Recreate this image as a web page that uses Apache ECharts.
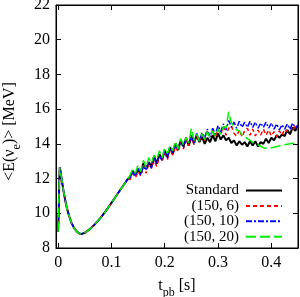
<!DOCTYPE html>
<html><head><meta charset="utf-8">
<script src="https://cdn.jsdelivr.net/npm/echarts@6/dist/echarts.min.js"></script>
<style>html,body{margin:0;padding:0;background:#fff}#c{width:300px;height:297px}</style>
</head><body><div id="c"></div>
<script>
// time (s) — early phase shared by all runs
const tEarly = [0, 0.001, 0.002, 0.003, 0.004, 0.006, 0.008, 0.010, 0.013, 0.016, 0.020, 0.025, 0.030, 0.035, 0.040, 0.045, 0.050, 0.060, 0.070, 0.080, 0.090, 0.100, 0.110, 0.120, 0.130];
const eEarly = [8.95, 10.0, 11.6, 12.65, 12.5, 12.1, 11.7, 11.3, 10.8, 10.35, 9.9, 9.45, 9.15, 8.95, 8.83, 8.82, 8.87, 9.1, 9.4, 9.75, 10.15, 10.6, 11.05, 11.5, 11.95];
const tLate = [0.135,0.14,0.145,0.15,0.155,0.16,0.165,0.17,0.175,0.18,0.185,0.19,0.195,0.2,0.205,0.21,0.215,0.22,0.225,0.23,0.235,0.24,0.245,0.25,0.255,0.26,0.265,0.27,0.275,0.28,0.285,0.29,0.295,0.3,0.305,0.31,0.315,0.32,0.325,0.33,0.335,0.34,0.345,0.35,0.355,0.36,0.365,0.37,0.375,0.38,0.385,0.39,0.395,0.4,0.405,0.41,0.415,0.42,0.425,0.43,0.435,0.44,0.445,0.45];
const eStandard = [12.1,12.45,12.2,12.5,12.3,12.9,12.55,12.95,12.7,13.3,12.85,13.4,13.1,13.6,13.25,13.8,13.4,14.0,13.65,14.2,13.85,14.35,13.9,14.4,14.05,14.5,14.1,14.4,14.0,14.35,14.1,14.5,14.15,14.6,14.25,14.5,14.2,14.35,14.05,14.2,13.9,14.15,13.95,14.1,13.85,14.15,13.9,14.15,13.85,14.1,14.0,14.3,14.05,14.35,14.2,14.5,14.35,14.55,14.45,14.8,14.55,14.95,14.75,15.05];
const e150_6 = [11.95,12.3,12.05,12.4,12.15,12.75,12.3,12.85,12.6,13.05,12.7,13.3,13.0,13.45,13.1,13.7,13.35,13.85,13.55,14.1,13.7,14.2,13.9,14.35,13.95,14.5,14.15,14.6,14.2,14.75,14.4,14.8,14.35,14.85,14.55,15.0,14.5,14.9,15.05,14.6,14.45,14.8,14.4,14.75,14.9,14.5,14.85,14.45,14.8,14.5,14.85,14.5,14.8,14.45,14.7,14.4,14.75,14.5,14.85,14.7,14.95,14.75,15.05,14.95];
const e150_10 = [12.05,12.35,12.15,12.6,12.2,12.7,12.5,12.95,12.6,13.15,12.9,13.3,13.05,13.65,13.2,13.75,13.5,13.9,13.7,14.2,13.8,14.3,14.0,14.5,14.05,14.6,14.2,14.65,14.35,14.85,14.4,14.9,14.55,15.05,14.7,15.15,14.8,15.35,14.95,15.25,14.9,15.3,14.95,15.25,14.95,15.3,14.95,15.25,14.9,15.2,14.95,15.25,14.9,15.2,14.85,15.15,14.8,15.1,14.85,15.15,14.85,15.2,14.9,15.1];
const e150_20 = [12.2,12.55,12.3,12.8,12.4,13.05,12.6,13.2,12.9,13.35,13.1,13.6,13.2,13.75,13.45,13.9,13.6,14.15,13.7,14.3,13.95,14.35,14.05,14.9,14.2,14.55,14.15,14.6,14.25,14.7,14.35,14.75,14.45,14.85,14.55,15.0,14.9,15.85,15.2,15.0,14.8,14.75,14.5,14.45,14.3,14.2,14.1,14.0,13.95,13.85,13.78,13.75,13.75,13.78,13.8,13.85,13.88,13.9,13.95,13.98,14.0,14.03,14.05,14.07];
const names = ['Standard', '(150, 6)', '(150, 10)', '(150, 20)'];
const xTicks = [0, 0.1, 0.2, 0.3, 0.4];

const font = 'Liberation Serif';
function pts(late) {
  const out = [];
  tEarly.forEach((t, i) => out.push([t, eEarly[i]]));
  tLate.forEach((t, i) => out.push([t, late[i]]));
  return out;
}
const styles = [
  {color: '#000000', width: 2, type: 'solid'},
  {color: '#ff0000', width: 1.5, type: [4, 3]},
  {color: '#0000ff', width: 1.5, type: [6, 2, 2, 2]},
  {color: '#00ee00', width: 1.5, type: [10, 4]}
];
const vals = [eStandard, e150_6, e150_10, e150_20];
const chart = echarts.init(document.getElementById('c'), null, {renderer: 'canvas'});
const axisCommon = {
  axisLine: {show: true, onZero: false, lineStyle: {color: '#000', width: 1}},
  axisTick: {show: true, inside: true, length: 5, lineStyle: {color: '#000'}},
  splitLine: {show: false}
};
const richName = {
  t: {fontFamily: font, fontSize: 16, color: '#000', verticalAlign: 'top'},
  sub: {fontFamily: font, fontSize: 12, color: '#000', verticalAlign: 'top', padding: [9, 0, 0, 0]}
};
chart.setOption({
  animation: false,
  grid: {left: 56, top: 5, right: 2, bottom: 49, show: true, borderColor: '#000', borderWidth: 1,
         containLabel: false, outerBoundsMode: 'none'},
  legend: {
    orient: 'vertical', right: 17, top: 183, align: 'right', padding: 0,
    itemWidth: 36, itemHeight: 15, itemGap: 0.4,
    itemStyle: {opacity: 0, borderWidth: 0},
    textStyle: {fontFamily: font, fontSize: 15, lineHeight: 15, color: '#000', padding: [0, 2, 0, 0]},
    data: names
  },
  xAxis: [
    Object.assign({}, axisCommon, {
      type: 'value', min: -0.004, max: 0.45,
      axisTick: {show: true, inside: true, length: 5, lineStyle: {color: '#000'}, customValues: xTicks},
      axisLabel: {customValues: xTicks, fontFamily: font, fontSize: 16, color: '#000', margin: 7,
        formatter: v => String(Math.round(v * 10) / 10)},
      name: '{t|t}{sub|pb}{t| [s]}', nameLocation: 'middle', nameGap: 30,
      nameTextStyle: {fontFamily: font, fontSize: 16, color: '#000', rich: richName}
    }),
    Object.assign({}, axisCommon, {
      type: 'value', min: -0.004, max: 0.45, position: 'top',
      axisTick: {show: true, inside: true, length: 5, lineStyle: {color: '#000'}, customValues: xTicks},
      axisLabel: {show: false}
    })
  ],
  yAxis: [
    Object.assign({}, axisCommon, {
      type: 'value', min: 8, max: 22, interval: 2,
      axisLabel: {fontFamily: font, fontSize: 16, color: '#000', margin: 6},
      name: '{t|<E(ν}{sub|e}{t|)> [MeV]}', nameLocation: 'middle', nameGap: 30, nameRotate: 90,
      nameTextStyle: {fontFamily: font, fontSize: 16, color: '#000', rich: richName, padding: [0, 10, 0, 0]}
    }),
    Object.assign({}, axisCommon, {
      type: 'value', min: 8, max: 22, interval: 2, position: 'right',
      axisLabel: {show: false}
    })
  ],
  series: names.map((n, i) => ({
    name: n, type: 'line', xAxisIndex: 0, yAxisIndex: 0,
    data: pts(vals[i]), showSymbol: false, symbol: 'none',
    lineStyle: styles[i], itemStyle: {color: styles[i].color}
  }))
});
</script></body></html>
